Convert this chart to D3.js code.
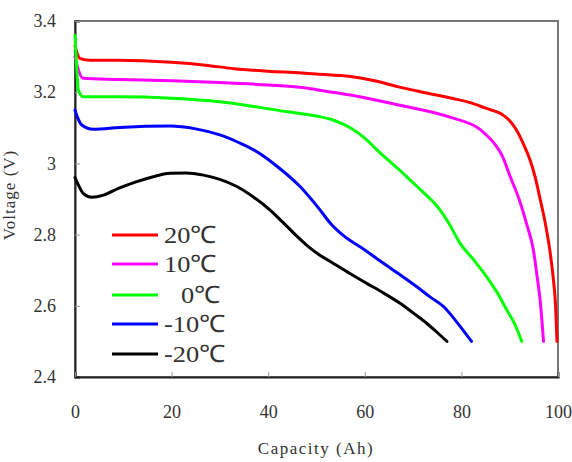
<!DOCTYPE html>
<meta charset="utf-8">
<script src="https://d3js.org/d3.v7.min.js"></script>
<style>
    body { margin: 0; background: #fff; }
</style>
<svg width="572" height="462"></svg>
<script>

    // series labels and colours
    const seriesNames = ["20℃", "10℃", "0℃", "-10℃", "-20℃"];
    const seriesColors = ["#ff0000", "#ff00ff", "#00ff00", "#0000ff", "#000000"];

    // capacity (Ah), voltage (V)
    const red20 = [[0,3.33],[0.3,3.315],[1,3.295],[3,3.29],[9,3.29],[20,3.284],[27,3.276],[33,3.266],[40,3.259],
        [47,3.254],[50,3.251],[57,3.244],[62,3.232],[67,3.215],[72,3.2],[78,3.183],[82,3.17],[85,3.155],[88.6,3.136],
        [90,3.12],[91.4,3.094],[93,3.05],[94.2,3.01],[95.3,2.96],[96.3,2.9],[97.4,2.83],[98.3,2.757],[99,2.68],
        [99.5,2.6],[99.8,2.5]];
    const magenta10 = [[0,3.3],[0.5,3.272],[1.7,3.239],[9,3.236],[20,3.232],[30,3.227],[40,3.22],[47,3.213],
        [50,3.207],[57,3.192],[67,3.164],[77.6,3.13],[84,3.094],[87.3,3.047],[88.5,3.02],[90.1,2.963],[92,2.897],
        [93.5,2.83],[94.9,2.757],[95.7,2.68],[96.3,2.616],[97,2.5]];
    const green0 = [[0,3.36],[0.3,3.28],[0.7,3.206],[1.7,3.187],[9,3.187],[20,3.183],[30,3.173],[37,3.16],
        [44,3.145],[50,3.133],[53.4,3.122],[57,3.1],[60.4,3.066],[62.5,3.038],[67.3,2.98],[69.4,2.953],[72,2.92],
        [75.6,2.869],[77.5,2.83],[79.7,2.776],[82.5,2.73],[85.2,2.682],[87.5,2.635],[89.4,2.588],[91,2.55],[92.5,2.5]];
    const blueM10 = [[0,3.15],[0.5,3.13],[1.4,3.108],[3.8,3.096],[9.3,3.101],[19.7,3.105],[25,3.097],[30,3.08],
        [34,3.058],[37,3.038],[42,2.99],[46.6,2.935],[50.4,2.875],[53,2.83],[55.6,2.797],[60,2.757],[63.8,2.72],
        [67,2.69],[70.7,2.654],[73.5,2.625],[76.3,2.598],[79,2.555],[82.1,2.5]];
    const blackM20 = [[0,2.96],[0.5,2.945],[1.7,2.916],[3.5,2.905],[5.9,2.911],[9,2.93],[12.8,2.949],[16,2.962],
        [19.7,2.972],[23,2.973],[26.6,2.967],[30,2.955],[33.5,2.935],[37,2.905],[40.4,2.869],[43,2.835],[45.9,2.796],
        [48,2.77],[50.4,2.745],[53.5,2.719],[57,2.69],[60.4,2.663],[64,2.635],[67.3,2.607],[70,2.58],[72.8,2.551],
        [75,2.525],[77,2.5]];

    const seriesData = [red20, magenta10, green0, blueM10, blackM20];

    const xTicks = [0, 20, 40, 60, 80, 100];
    const yTicks = [2.4, 2.6, 2.8, 3, 3.2, 3.4];

    const serif = '"Liberation Serif", "Times New Roman", serif'

    const margin = {top: 21, right: 14, bottom: 85, left: 75},
        width = 572,
        height = 462;
    const w = width - margin.left - margin.right
    const h = height - margin.top - margin.bottom

    const x = d3.scaleLinear().domain([0, 100]).range([0, w])
    const y = d3.scaleLinear().domain([2.4, 3.4]).range([h, 0])

    const svg = d3.select('svg')
    const g = svg.append('g')
        .attr('transform', 'translate(' + margin.left + ',' + margin.top + ')')

    // frame: top and right in grey
    g.append('rect')
        .attr('x', 0).attr('y', 0)
        .attr('width', w).attr('height', h)
        .attr('fill', 'none')
        .attr('stroke', '#777')
        .attr('stroke-width', 2)

    const yAxis = g.append('g')
        .call(d3.axisLeft(y).tickValues(yTicks).tickSize(-5).tickPadding(19).tickFormat(d3.format('')))
    const xAxis = g.append('g')
        .attr('transform', 'translate(0,' + h + ')')
        .call(d3.axisBottom(x).tickValues(xTicks).tickSize(-5).tickPadding(28))

    for (const ax of [xAxis, yAxis]) {
        ax.attr('font-family', serif).attr('font-size', 18)
        ax.select('.domain').attr('stroke', '#222').attr('stroke-width', 2)
        ax.selectAll('.tick line').attr('stroke', '#999')
        ax.selectAll('.tick text')
            .style('font-family', serif)
            .style('font-size', '18px')
            .attr('fill', '#333')
    }

    const line = d3.line()
        .x(d => x(d[0]))
        .y(d => y(d[1]))
        .curve(d3.curveMonotoneX)

    g.selectAll('path.series')
        .data(seriesData)
        .enter().append('path')
        .attr('class', 'series')
        .attr('d', line)
        .attr('fill', 'none')
        .attr('stroke', (d, i) => seriesColors[i])
        .attr('stroke-width', 3)
        .attr('stroke-linejoin', 'round')
        .attr('stroke-linecap', 'round')

    // legend
    const legendY = [235, 264, 295, 324, 354]
    const legend = svg.append('g')
    legend.selectAll('line')
        .data(seriesNames)
        .enter().append('line')
        .attr('x1', 112).attr('x2', 158)
        .attr('y1', (d, i) => legendY[i]).attr('y2', (d, i) => legendY[i])
        .attr('stroke', (d, i) => seriesColors[i])
        .attr('stroke-width', 3)
    legend.selectAll('text')
        .data(seriesNames)
        .enter().append('text')
        .attr('transform', (d, i) => 'translate(' + (d === "0℃" ? 181 : 164) + ',' + (legendY[i] + 8) + ') scale(1.1,1)')
        .style('font-family', serif)
        .style('font-size', '24px')
        .attr('fill', '#333')
        .text(d => d)

    // axis titles
    svg.append('text')
        .attr('x', 316)
        .attr('y', 454)
        .attr('text-anchor', 'middle')
        .style('font-family', serif)
        .style('font-size', '17px')
        .style('letter-spacing', '1.5px')
        .attr('fill', '#333')
        .text('Capacity (Ah)')

    svg.append('text')
        .attr('transform', 'translate(15,195) rotate(-90)')
        .attr('text-anchor', 'middle')
        .style('font-family', serif)
        .style('font-size', '17px')
        .style('letter-spacing', '1px')
        .attr('fill', '#333')
        .text('Voltage (V)')

</script>
